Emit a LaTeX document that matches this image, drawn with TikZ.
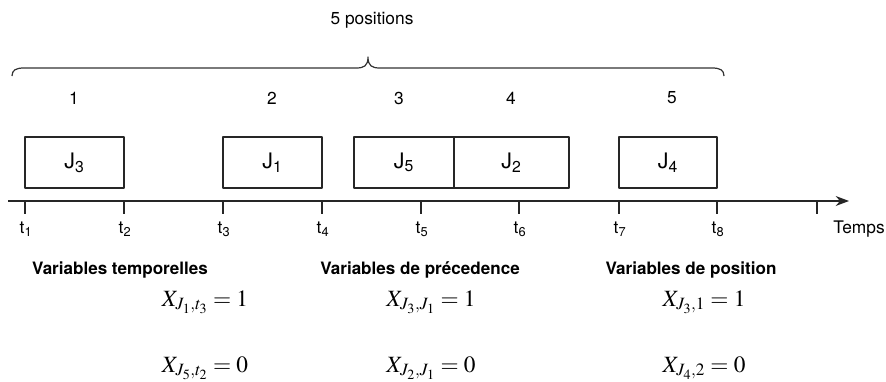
\documentclass[tikz,border=0pt]{standalone}
\usepackage{fontspec}
\usepackage{mathptmx}
\setsansfont{TeX Gyre Heros}
\usetikzlibrary{arrows.meta}
\begin{document}
\begin{tikzpicture}[x=0.75pt,y=-0.75pt,
  line join=round,
  txt/.style={font=\sffamily\fontsize{13}{15}\selectfont, inner sep=0pt},
  hdr/.style={font=\sffamily\bfseries\fontsize{12.8}{15}\selectfont, inner sep=0pt},
  tlab/.style={font=\sffamily\fontsize{13}{15}\selectfont, inner sep=0pt},
  eqn/.style={font=\fontsize{17.5}{20}\selectfont, inner sep=0pt},
  job/.style={draw=black!85, line width=0.8pt, minimum height=38.25pt, inner sep=0pt,
              font=\sffamily\fontsize{16}{18}\selectfont},
  tick/.style={line width=1pt, draw=black!85},
  axis/.style={line width=1pt, draw=black!85, -{Stealth[length=10pt,width=7.5pt]}}
]
\useasboundingbox (0,0) rectangle (886,382);

% title and brace
\node[txt] (title) at (372,20) {5 positions};
\draw[line width=0.9pt, black!80] (12,76) .. controls (12,70) and (16,68) .. (24,68)
  -- (356,68) .. controls (364,68) and (368,66) .. (368,57)
  .. controls (368,66) and (372,68) .. (380,68)
  -- (712,68) .. controls (720,68) and (724,70) .. (724,76);

% position numbers
\node[txt] (p1) at (74,98) {1};
\node[txt] (p2) at (272,98) {2};
\node[txt] (p3) at (399,98) {3};
\node[txt] (p4) at (511,98) {4};
\node[txt] (p5) at (672,98) {5};

% jobs
\node[job, minimum width=74.25pt] (j3) at (74.5,162.5) {J\textsubscript{3}};
\node[job, minimum width=74.25pt] (j1) at (272.5,162.5) {J\textsubscript{1}};
\node[job, minimum width=75pt] (j5) at (404,162.5) {J\textsubscript{5}};
\node[job, minimum width=86.25pt] (j2) at (511.5,162.5) {J\textsubscript{2}};
\node[job, minimum width=73.5pt] (j4) at (668,162.5) {J\textsubscript{4}};

% axis
\coordinate (a0) at (8,201);
\coordinate (a1) at (849,201);
\draw[axis] (a0) -- (a1);
\foreach \x/\n in {25/1,124/2,223/3,322/4,421/5,519/6,619/7,717/8}{
  \draw[tick] (\x,201) -- (\x,214);
  \node[tlab] (t\n) at (\x+1,229) {t\textsubscript{\n}};
}
\draw[tick] (817,201) -- (817,214);
\node[tlab] (temps) at (859,229) {Temps};

% headings
\node[hdr] (h1) at (120,270) {Variables temporelles};
\node[hdr] (h2) at (420,270) {Variables de précedence};
\node[hdr] (h3) at (691,270) {Variables de position};

% equations
\node[eqn] (e1) at (205,302) {$X_{J_1,t_3}=1$};
\node[eqn] (e2) at (431,302) {$X_{J_3,J_1}=1$};
\node[eqn] (e3) at (704,302) {$X_{J_3,1}=1$};
\node[eqn] (e4) at (205,368) {$X_{J_5,t_2}=0$};
\node[eqn] (e5) at (431,368) {$X_{J_2,J_1}=0$};
\node[eqn] (e6) at (704,368) {$X_{J_4,2}=0$};
\end{tikzpicture}
\end{document}
